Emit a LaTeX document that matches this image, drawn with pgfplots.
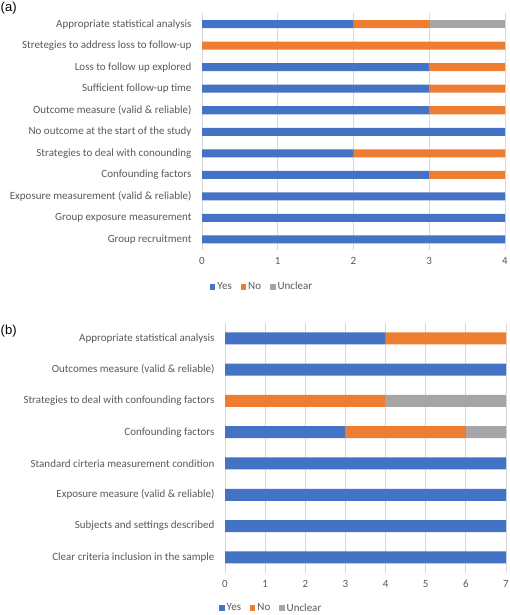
\documentclass[border=0pt]{standalone}
\usepackage{pgfplots}
\pgfplotsset{compat=1.18}
\usepackage{fontspec}
\setmainfont{Carlito}
\newfontfamily\arialfont{Liberation Sans}
\definecolor{cyes}{HTML}{4472C4}
\definecolor{cno}{HTML}{ED7D31}
\definecolor{cunc}{HTML}{A5A5A5}
\definecolor{ctext}{HTML}{595959}
\definecolor{cgrid}{HTML}{D9D9D9}
\pgfplotsset{
  legsq/.style={legend image code/.code={\fill[##1] (0pt,-2.7pt) rectangle (5.4pt,2.7pt);}},
  mystyle/.style={
    scale only axis, xbar stacked, axis line style={draw=none}, major tick length=0pt,
    xmajorgrids, grid style={cgrid, line width=0.8pt},
    tick label style={font=\fontsize{11}{13}\selectfont, text=ctext},
    /pgf/number format/assume math mode=true,
    xticklabel style={yshift=-4pt},
    yticklabel style={xshift=-7pt},
    legend style={draw=none, fill=none, inner sep=0pt, font=\fontsize{11}{13}\selectfont, text=ctext,
      legend columns=-1, /tikz/every even column/.append style={column sep=7pt}},
  }
}
\begin{document}
\begin{tikzpicture}
\useasboundingbox (0pt,0pt) rectangle (509pt,-615pt);
\node[anchor=north west, inner sep=0pt] at (0.5pt,-2pt) {\arialfont\fontsize{13}{15}\selectfont (a)};
\node[anchor=north west, inner sep=0pt] at (0.5pt,-325pt) {\arialfont\fontsize{13}{15}\selectfont (b)};
\begin{axis}[mystyle, at={(202pt,-250pt)}, anchor=south west, width=303pt, height=236.5pt,
  xmin=0, xmax=4, ymin=-0.5, ymax=10.5, xtick={0,...,4}, ytick={0,...,10}, bar width=8pt,
  yticklabels={Group recruitment, Group exposure measurement, Exposure measurement (valid \& reliable),
    Confounding factors, Strategies to deal with conounding, No outcome at the start of the study,
    Outcome measure (valid \& reliable), Sufficient follow-up time\ , Loss to follow up explored,
    Stretegies to address loss to follow-up, Appropriate statistical analysis},
  legend style={at={(0.026,-0.156)}, anchor=west}]
\addplot[fill=cyes, draw=none, legsq] coordinates {(4,0) (4,1) (4,2) (3,3) (2,4) (4,5) (3,6) (3,7) (3,8) (0,9) (2,10)};
\addplot[fill=cno, draw=none, legsq] coordinates {(0,0) (0,1) (0,2) (1,3) (2,4) (0,5) (1,6) (1,7) (1,8) (4,9) (1,10)};
\addplot[fill=cunc, draw=none, legsq] coordinates {(0,0) (0,1) (0,2) (0,3) (0,4) (0,5) (0,6) (0,7) (0,8) (0,9) (1,10)};
\legend{Yes, No, Unclear}
\end{axis}
\begin{axis}[mystyle, at={(225pt,-573pt)}, anchor=south west, width=281pt, height=250.4pt,
  xmin=0, xmax=7, ymin=-0.5, ymax=7.5, xtick={0,...,7}, ytick={0,...,7}, bar width=12pt,
  yticklabels={Clear criteria inclusion in the sample, Subjects and settings described,
    Exposure measure (valid \& reliable), Standard cirteria measurement condition,
    Confounding factors, Strategies to deal with confounding factors,
    Outcomes measure (valid \& reliable), Appropriate statistical analysis},
  legend style={at={(-0.021,-0.140)}, anchor=west}]
\addplot[fill=cyes, draw=none, legsq] coordinates {(7,0) (7,1) (7,2) (7,3) (3,4) (0,5) (7,6) (4,7)};
\addplot[fill=cno, draw=none, legsq] coordinates {(0,0) (0,1) (0,2) (0,3) (3,4) (4,5) (0,6) (3,7)};
\addplot[fill=cunc, draw=none, legsq] coordinates {(0,0) (0,1) (0,2) (0,3) (1,4) (3,5) (0,6) (0,7)};
\legend{Yes, No, Unclear}
\end{axis}
\end{tikzpicture}
\end{document}
